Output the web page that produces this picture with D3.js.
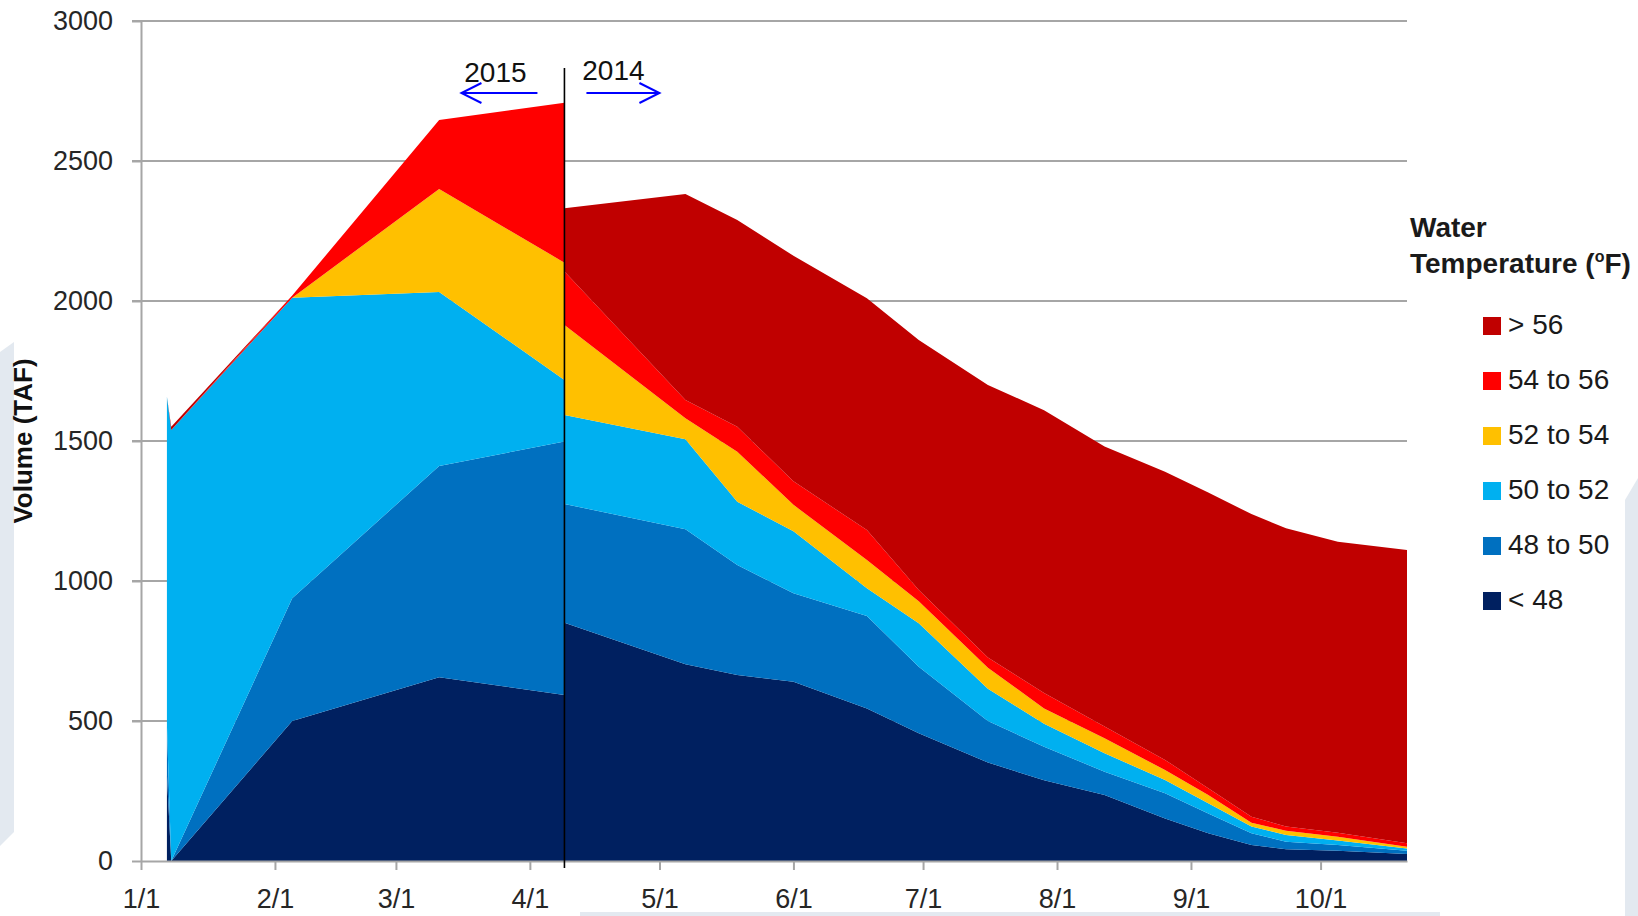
<!DOCTYPE html>
<html lang="en">
<head>
<meta charset="UTF-8"/>
<title>Volume by water temperature</title>
<script src="https://d3js.org/d3.v7.min.js"></script>
<style>
  body { margin: 0; background: #fff; }
  svg { display: block; font-family: "Liberation Sans", Arial, sans-serif; }
  .grid line { stroke: #a6a6a6; stroke-width: 2; }
  .axis path, .axis line { stroke: #a6a6a6; stroke-width: 2; }
  .axis text { font-size: 27px; fill: #262626; font-family: "Liberation Sans", Arial, sans-serif; }
  .legend text { font-size: 28px; fill: #1a1a1a; }
  .note { font-size: 28px; fill: #111; }
</style>
</head>
<body>
<script>
// layers, bottom to top
const keys = ["lt48", "t48to50", "t50to52", "t52to54", "t54to56", "gt56"]
const legendLabels = ["< 48", "48 to 50", "50 to 52", "52 to 54", "54 to 56", "> 56"]
const colors = ["#002060", "#0070c0", "#00b0f0", "#ffc000", "#ff0000", "#c00000"]

// 2015 (left of the divider), volumes in TAF
const dates2015   = ["1/7", "1/8", "2/5", "3/11", "4/9"]
const lt48_2015   = [307, 0, 500, 656, 593]
const t48to50_2015 = [179, 0, 438, 755, 905]
const t50to52_2015 = [1172, 1539, 1074, 621, 220]
const t52to54_2015 = [0, 0, 0, 368, 419]
const t54to56_2015 = [0, 0, 8, 246, 571]
const gt56_2015   = [0, 12, 0, 0, 0]

// 2014 (right of the divider)
const dates2014   = ["4/9", "5/7", "5/19", "6/1", "6/18", "6/30", "7/16", "7/29", "8/12", "8/26", "9/5", "9/15", "9/23", "10/5", "10/21"]
const lt48_2014   = [851, 703, 664, 640, 545, 456, 352, 288, 236, 152, 99, 57, 42, 37, 25]
const t48to50_2014 = [424, 482, 393, 316, 330, 238, 148, 120, 83, 90, 71, 42, 27, 20, 12]
const t50to52_2014 = [318, 321, 226, 222, 99, 155, 115, 82, 66, 47, 36, 24, 24, 16, 8]
const t52to54_2014 = [321, 75, 179, 94, 101, 79, 75, 55, 53, 36, 30, 14, 15, 14, 6]
const t54to56_2014 = [191, 65, 89, 84, 107, 40, 37, 55, 42, 36, 24, 21, 15, 14, 12]
const gt56_2014   = [226, 736, 738, 806, 828, 893, 973, 1010, 1000, 1029, 1056, 1081, 1065, 1039, 1048]

const xTickLabels = ["1/1", "2/1", "3/1", "4/1", "5/1", "6/1", "7/1", "8/1", "9/1", "10/1"]
const yTicks = [0, 500, 1000, 1500, 2000, 2500, 3000]
const dateStart = "1/1", dateEnd = "10/21", dividerDate = "4/9"

const parse = d3.utcParse("%-m/%-d")

function rows(dates, series) {
  return dates.map((d, i) => {
    const r = {date: parse(d)}
    keys.forEach((k, j) => r[k] = series[j][i])
    return r
  })
}
const data2015 = rows(dates2015, [lt48_2015, t48to50_2015, t50to52_2015, t52to54_2015, t54to56_2015, gt56_2015])
const data2014 = rows(dates2014, [lt48_2014, t48to50_2014, t50to52_2014, t52to54_2014, t54to56_2014, gt56_2014])

const width = 1638, height = 916
const plot = {left: 141, right: 1407, top: 21, bottom: 861}

const x = d3.scaleUtc()
    .domain([parse(dateStart), parse(dateEnd)])
    .range([plot.left, plot.right])
const y = d3.scaleLinear()
    .domain([0, 3000])
    .range([plot.bottom, plot.top])
const color = d3.scaleOrdinal().domain(keys).range(colors)

const svg = d3.select("body").append("svg")
    .attr("width", width)
    .attr("height", height)

// faint slide background shapes
const bg = svg.append("g").attr("fill", "#e3e9f0")
bg.append("polygon").attr("points", "0,352 14,342 14,832 0,846")
bg.append("polygon").attr("points", "1638,478 1625,500 1625,916 1638,916")
bg.append("rect").attr("x", 580).attr("y", 912).attr("width", 860).attr("height", 4)

// horizontal gridlines
svg.append("g")
    .attr("class", "grid")
  .selectAll("line")
  .data(yTicks.filter(d => d > 0))
  .join("line")
    .attr("x1", plot.left - 9)
    .attr("x2", plot.right)
    .attr("y1", d => y(d))
    .attr("y2", d => y(d))

// stacked areas
const stack = d3.stack().keys(keys)
const area = d3.area()
    .x(d => x(d.data.date))
    .y0(d => y(d[0]))
    .y1(d => y(d[1]))

for (const dataset of [data2015, data2014]) {
  svg.append("g")
    .selectAll("path")
    .data(stack(dataset))
    .join("path")
      .attr("fill", d => color(d.key))
      .attr("d", area)
}

// axes
svg.append("g")
    .attr("class", "axis")
    .attr("transform", `translate(0, ${plot.bottom})`)
    .call(d3.axisBottom(x)
      .tickValues(xTickLabels.map(parse))
      .tickFormat(d3.utcFormat("%-m/%-d"))
      .tickSize(9)
      .tickSizeOuter(0))
    .call(g => g.selectAll("text").attr("dy", 0).attr("y", 47))

svg.append("g")
    .attr("class", "axis")
    .attr("transform", `translate(${plot.left}, 0)`)
    .call(d3.axisLeft(y)
      .tickValues(yTicks)
      .tickFormat(d3.format("d"))
      .tickSize(9)
      .tickSizeOuter(0)
      .tickPadding(19))

// divider between 2015 and 2014
const xDiv = x(parse(dividerDate))
svg.append("line")
    .attr("x1", xDiv).attr("x2", xDiv)
    .attr("y1", 68).attr("y2", 868)
    .attr("stroke", "#000")
    .attr("stroke-width", 1.6)

svg.append("text").attr("class", "note")
    .attr("x", xDiv - 69).attr("y", 82)
    .attr("text-anchor", "middle")
    .text("2015")
svg.append("text").attr("class", "note")
    .attr("x", xDiv + 49).attr("y", 80)
    .attr("text-anchor", "middle")
    .text("2014")

const arrows = svg.append("g")
    .attr("fill", "none")
    .attr("stroke", "#0000ff")
    .attr("stroke-width", 2)
arrows.append("path")
    .attr("d", `M${xDiv - 27},93 H${xDiv - 103} M${xDiv - 83},83 L${xDiv - 103},93 L${xDiv - 83},103`)
arrows.append("path")
    .attr("d", `M${xDiv + 22},93 H${xDiv + 95} M${xDiv + 75},83 L${xDiv + 95},93 L${xDiv + 75},103`)

// y-axis title
svg.append("text")
    .attr("transform", "translate(32, 441) rotate(-90)")
    .attr("text-anchor", "middle")
    .attr("font-size", 26)
    .attr("font-weight", "bold")
    .attr("fill", "#111")
    .text("Volume (TAF)")

// legend
const legend = svg.append("g").attr("class", "legend")
legend.append("text")
    .attr("x", 1410).attr("y", 237)
    .attr("font-size", 26.5).attr("font-weight", "bold")
    .text("Water")
const t2 = legend.append("text")
    .attr("x", 1410).attr("y", 273)
    .attr("font-size", 26.5).attr("font-weight", "bold")
t2.append("tspan").text("Temperature (")
t2.append("tspan").attr("font-size", 16).attr("dy", -11).text("o")
t2.append("tspan").attr("dy", 11).text("F)")

const items = legend.selectAll("g.item")
  .data(keys.slice().reverse())
  .join("g")
    .attr("class", "item")
    .attr("transform", (d, i) => `translate(1483, ${317 + i * 55})`)
items.append("rect")
    .attr("width", 18).attr("height", 18)
    .attr("fill", d => color(d))
items.append("text")
    .attr("x", 25).attr("y", 17)
    .text(d => legendLabels[keys.indexOf(d)])
</script>
</body>
</html>
